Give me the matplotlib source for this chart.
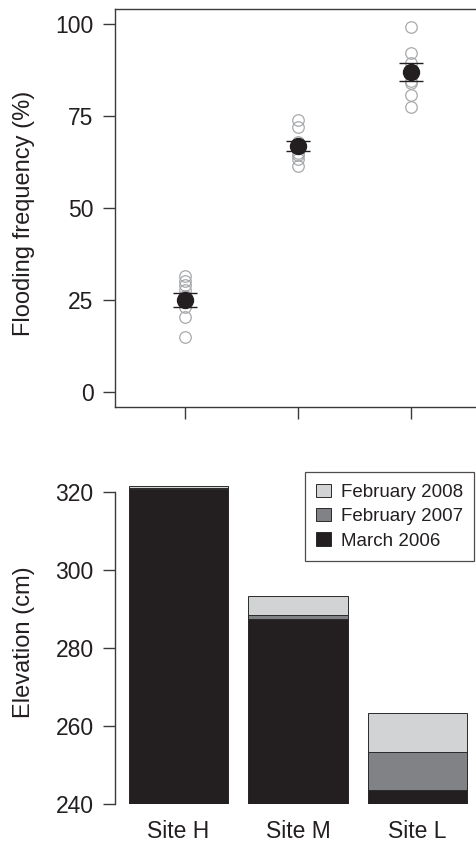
import matplotlib
matplotlib.use("Agg")
import matplotlib.pyplot as plt
import numpy as np

plt.rcParams['font.family'] = ['Liberation Sans', 'DejaVu Sans']

# ---------------- data ----------------
sites = ["Site H", "Site M", "Site L"]
flood_H = [31.5, 30.2, 29.0, 27.8, 26.0, 23.0, 20.4, 15.0]
flood_M = [73.8, 72.0, 68.0, 66.5, 65.0, 64.3, 63.3, 61.3]
flood_L = [99.1, 92.2, 89.5, 87.5, 84.5, 84.0, 80.8, 77.4]
flood_mean = [25.0, 66.8, 86.9]
flood_se = [1.8, 1.35, 2.4]
flood_yticks = [0, 25, 50, 75, 100]

elev_mar2006 = [320.6, 287.4, 243.7]
elev_feb2007 = [320.9, 288.5, 253.5]
elev_feb2008 = [321.5, 293.2, 263.3]
elev_yticks = [240, 260, 280, 300, 320]
series_labels = ["February 2008", "February 2007", "March 2006"]

# ---------------- style ----------------
TXT = "#231f20"
AX = "#3a3a3a"
C_BLACK = "#231f20"
C_MID = "#808285"
C_LIGHT = "#d1d3d4"
FS = 16.5

W, H = 476, 843
fig = plt.figure(figsize=(W / 100, H / 100), dpi=100)

def px_axes(x0, y0, x1, y1):
    return fig.add_axes([x0 / W, 1 - y1 / H, (x1 - x0) / W, (y1 - y0) / H])

# ---------------- top panel ----------------
ax1 = px_axes(115, 9, 481, 407.3)
groups = [flood_H, flood_M, flood_L]
xpos = np.arange(1, len(groups) + 1)
for xi, vals in zip(xpos, groups):
    ax1.plot(np.full(len(vals), xi), vals, linestyle="none", marker="o",
             markersize=8.3, markerfacecolor="none", markeredgecolor="#a7a9ac",
             markeredgewidth=0.9, zorder=2)
ax1.errorbar(xpos, flood_mean, yerr=flood_se, fmt="o", color=C_BLACK,
             markersize=11.5, ecolor=C_BLACK, elinewidth=1.0, capsize=8.6,
             capthick=1.0, zorder=3)
ax1.set_xlim(0.38, 3.62)
ax1.set_ylim(-4.16, 104.1)
ax1.set_yticks(flood_yticks)
ax1.set_xticks(xpos)
ax1.set_xticklabels([])
for s in ax1.spines.values():
    s.set_color(AX)
    s.set_linewidth(1.0)
ax1.tick_params(axis="both", direction="out", length=8.4, width=1.0,
                color=AX, labelsize=FS, labelcolor=TXT, pad=7)
fig.text(24 / W, 1 - 213 / H, "Flooding frequency (%)", rotation=90,
         ha="center", va="center", fontsize=17, color=TXT)

# ---------------- bottom panel ----------------
ax2 = px_axes(115, 460.4, 481, 804.3)
bx = np.array([0.7, 1.9, 3.1])
base = 240
for vals, col, lab in [(elev_feb2008, C_LIGHT, series_labels[0]),
                       (elev_feb2007, C_MID, series_labels[1]),
                       (elev_mar2006, C_BLACK, series_labels[2])]:
    ax2.bar(bx, np.array(vals) - base, bottom=base, width=1.0, color=col,
            edgecolor="#2a2a2a", linewidth=0.7, label=lab)
ax2.set_xlim(0.064, 3.736)
ax2.set_ylim(240, 328)
ax2.set_yticks(elev_yticks)
ax2.set_xticks(bx)
ax2.set_xticklabels(sites)
for k in ["top", "right", "bottom"]:
    ax2.spines[k].set_visible(False)
ax2.spines["left"].set_bounds(240, 320)
ax2.spines["left"].set_color(AX)
ax2.spines["left"].set_linewidth(1.0)
ax2.tick_params(axis="y", direction="out", length=8.4, width=1.0,
                color=AX, labelsize=FS, labelcolor=TXT, pad=7)
ax2.tick_params(axis="x", length=0, labelsize=FS, labelcolor=TXT, pad=11)
fig.text(24 / W, 1 - 642.5 / H, "Elevation (cm)", rotation=90,
         ha="center", va="center", fontsize=17, color=TXT)

leg = ax2.legend(loc="upper right", bbox_to_anchor=(474 / W, 1 - 472.3 / H),
                 bbox_transform=fig.transFigure, fontsize=13.5,
                 frameon=True, fancybox=False, borderaxespad=0,
                 handlelength=0.8, handleheight=0.72, handletextpad=0.5,
                 labelspacing=0.38, borderpad=0.6)
leg.get_frame().set_edgecolor(TXT)
leg.get_frame().set_linewidth(0.9)
for t in leg.get_texts():
    t.set_color(TXT)

fig.savefig("out.png", dpi=100)
